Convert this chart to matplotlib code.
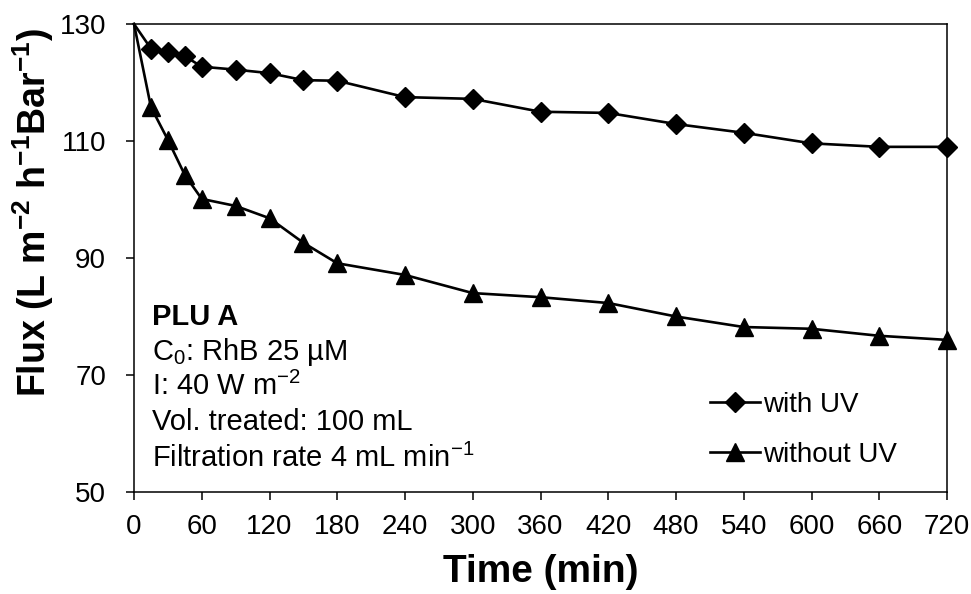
import matplotlib
matplotlib.use("Agg")
import matplotlib.pyplot as plt

# Permeate flux over the filtration run
time_min = [0, 15, 30, 45, 60, 90, 120, 150, 180, 240, 300, 360, 420, 480, 540, 600, 660, 720]
flux_with_uv = [130, 125.8, 125.2, 124.5, 122.7, 122.2, 121.6, 120.4, 120.3, 117.5, 117.2, 115.0,
                114.8, 112.9, 111.4, 109.6, 109.0, 109.0]
flux_without_uv = [130, 115.8, 110.2, 104.2, 100.1, 98.9, 96.8, 92.6, 89.1, 87.1, 84.0, 83.3,
                   82.3, 80.0, 78.2, 77.9, 76.7, 76.0]

x_ticks = list(range(0, 721, 60))
y_ticks = [50, 70, 90, 110, 130]

plt.rcParams["font.family"] = ["Liberation Sans", "DejaVu Sans"]
plt.rcParams["mathtext.fontset"] = "custom"
plt.rcParams["mathtext.rm"] = "Liberation Sans"
plt.rcParams["mathtext.it"] = "Liberation Sans:italic"
plt.rcParams["mathtext.bf"] = "Liberation Sans:bold"

W, H = 971, 594
fig = plt.figure(figsize=(W / 100, H / 100), dpi=100)
ax = fig.add_axes([134 / W, 1 - 492 / H, (947 - 134) / W, (492 - 24) / H])

# the shared starting point carries no marker
marked = list(range(1, len(time_min)))
ax.plot(time_min, flux_with_uv, color="black", lw=1.9, marker="D", ms=10,
        markevery=marked, label="with UV", clip_on=False, zorder=3)
ax.plot(time_min, flux_without_uv, color="black", lw=1.9, marker="^", ms=13,
        markevery=marked, label="without UV", clip_on=False, zorder=3)

ax.set_xlim(0, 720)
ax.set_ylim(50, 130)
ax.set_xticks(x_ticks)
ax.set_yticks(y_ticks)
ax.tick_params(axis="both", direction="out", length=6, width=1.1, labelsize=20)
ax.tick_params(axis="y", pad=14)
ax.tick_params(axis="x", pad=10)
for sp in ax.spines.values():
    sp.set_linewidth(1.1)

ax.set_xlabel("Time (min)", fontsize=28, fontweight="bold", labelpad=10)
fig.text(33 / W, 1 - 212 / H,
         r"Flux (L m$\mathbf{^{-2}}$ h$\mathbf{^{-1}}$Bar$\mathbf{^{-1}}$)",
         rotation=90, fontsize=27, fontweight="bold", ha="center", va="center")

# Operating conditions
notes = [
    ("PLU A", "bold"),
    (r"C$_0$: RhB 25 µM", "normal"),
    (r"I: 40 W m$^{-2}$", "normal"),
    ("Vol. treated: 100 mL", "normal"),
    (r"Filtration rate 4 mL min$^{-1}$", "normal"),
]
baselines = [325, 360, 395, 430, 467]
for (txt, wt), yb in zip(notes, baselines):
    fig.text(152 / W, 1 - yb / H, txt, fontsize=21, fontweight=wt,
             ha="left", va="baseline")

ax.legend(loc="center left", bbox_to_anchor=(710 / W, 1 - 430 / H),
          bbox_transform=fig.transFigure, frameon=False, fontsize=20,
          handlelength=1.8, handletextpad=0.1, borderpad=0, borderaxespad=0,
          labelspacing=0.85)

fig.savefig("out.png", dpi=100)
